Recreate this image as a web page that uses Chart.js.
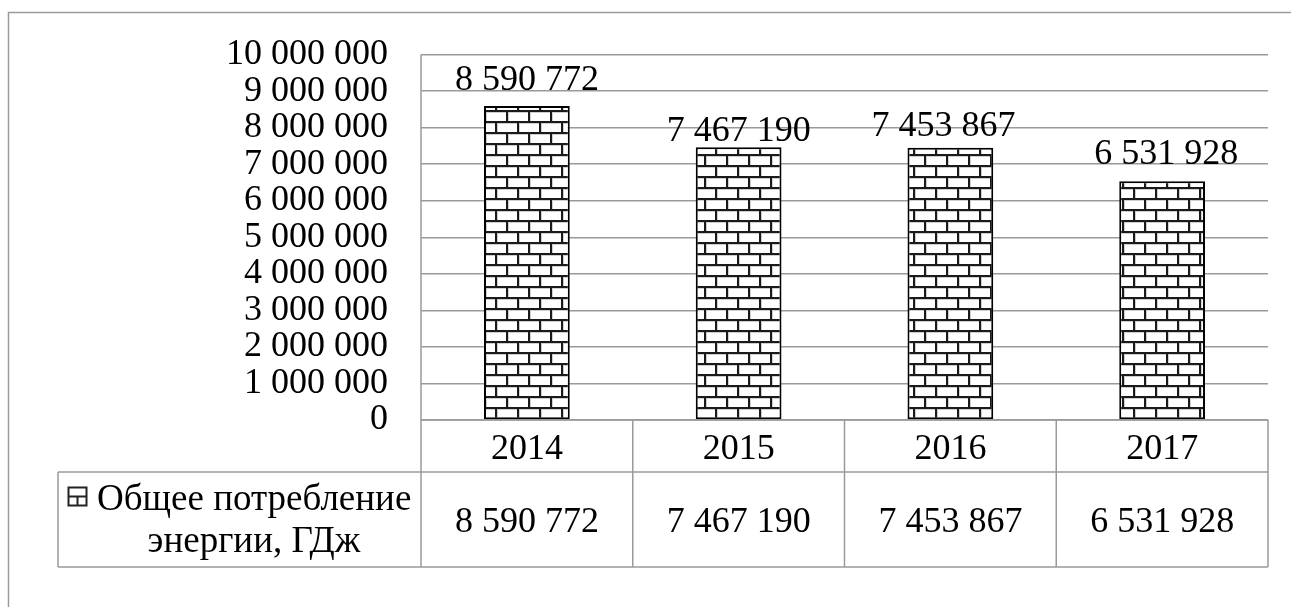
<!DOCTYPE html>
<html>
<head>
<meta charset="utf-8">
<script src="https://cdn.jsdelivr.net/npm/chart.js@4/dist/chart.umd.min.js"></script>
<style>
  html, body { margin: 0; padding: 0; background: #fff; }
  #wrap { width: 1291px; height: 607px; }
</style>
</head>
<body>
<div id="wrap"><canvas id="chart" width="1291" height="607"></canvas></div>
<script>
// данные диаграммы
const years = ['2014', '2015', '2016', '2017'];
const energyTotal = [8590772, 7467190, 7453867, 6531928];
const seriesName = ['Общее потребление', 'энергии, ГДж'];
const yMin = 0;
const yMax = 10000000;
const yStep = 1000000;

const FONT = '"Liberation Serif", "Times New Roman", serif';
const GRID = '#9a9a9a';

// формат "8 590 772"
function fmt(v) {
    return String(v).replace(/\B(?=(\d{3})+(?!\d))/g, ' ');
}

// кирпичная штриховка
function brickPattern(ctx) {
    const c = document.createElement('canvas');
    c.width = 22; c.height = 22;
    const g = c.getContext('2d');
    g.fillStyle = '#ffffff';
    g.fillRect(0, 0, 22, 22);
    // светлая тень внутри кирпичей
    g.fillStyle = '#cfcfcf';
    g.fillRect(0, 2, 22, 1);
    g.fillRect(0, 13, 22, 1);
    g.fillRect(2, 0, 1, 11);
    g.fillRect(13, 11, 1, 11);
    // швы
    g.fillStyle = '#1a1a1a';
    g.fillRect(0, 0, 22, 2);
    g.fillRect(0, 11, 22, 2);
    g.fillRect(0, 0, 2, 11);
    g.fillRect(11, 11, 2, 11);
    return ctx.createPattern(c, 'repeat');
}

const canvas = document.getElementById('chart');
const ctx = canvas.getContext('2d');

// небольшие сдвиги подписей, как в оригинале
const labelLift = [16, 6, 12, 17];
const labelShift = [0, 0, -7, 4];

const tablePlugin = {
    id: 'dataTable',
    afterDraw(chart) {
        const c = chart.ctx;
        const area = chart.chartArea;
        const x = chart.scales.x;
        const rowTop = area.bottom;
        const row1 = rowTop + 52;
        const row2 = row1 + 95;
        const legendLeft = 58;

        c.save();
        c.strokeStyle = GRID;
        c.lineWidth = 1.5;

        // внешняя рамка
        c.strokeRect(8.5, 12.5, 1400, 800);

        c.beginPath();
        // ось Y до низа таблицы
        c.moveTo(area.left, area.top);
        c.lineTo(area.left, row2);
        // горизонтальные линии таблицы
        c.moveTo(area.left, rowTop);
        c.lineTo(area.right, rowTop);
        c.moveTo(legendLeft, row1);
        c.lineTo(area.right, row1);
        c.moveTo(legendLeft, row2);
        c.lineTo(area.right, row2);
        c.moveTo(legendLeft, row1);
        c.lineTo(legendLeft, row2);
        // вертикальные разделители
        const w = (area.right - area.left) / years.length;
        for (let i = 1; i <= years.length; i++) {
            const xx = area.left + w * i;
            c.moveTo(xx, rowTop);
            c.lineTo(xx, row2);
        }
        c.stroke();

        // значения в таблице
        c.fillStyle = '#000';
        c.font = '36px ' + FONT;
        c.textAlign = 'center';
        c.textBaseline = 'alphabetic';
        energyTotal.forEach((v, i) => {
            c.fillText(fmt(v), x.getPixelForValue(i), row1 + 60);
        });

        // легенда-заголовок строки
        c.font = '37px ' + FONT;
        c.textAlign = 'left';
        c.fillText(seriesName[0], 97, row1 + 38);
        c.textAlign = 'center';
        c.fillText(seriesName[1], 254, row1 + 80);
        // значок серии
        const kx = 68.5, ky = 487.5, ks = 18;
        c.fillStyle = '#fff';
        c.fillRect(kx, ky, ks, ks);
        c.strokeStyle = '#222';
        c.lineWidth = 2;
        c.strokeRect(kx, ky, ks, ks);
        c.beginPath();
        c.moveTo(kx, ky + ks / 2);
        c.lineTo(kx + ks, ky + ks / 2);
        c.moveTo(kx + ks / 2, ky + ks / 2);
        c.lineTo(kx + ks / 2, ky + ks);
        c.stroke();

        // подписи над столбцами
        c.fillStyle = '#000';
        c.font = '36px ' + FONT;
        chart.getDatasetMeta(0).data.forEach((bar, i) => {
            c.fillText(fmt(energyTotal[i]), bar.x + labelShift[i], bar.y - labelLift[i]);
        });
        c.restore();
    }
};

new Chart(ctx, {
    type: 'bar',
    data: {
        labels: years,
        datasets: [{
            label: seriesName.join(' '),
            data: energyTotal,
            backgroundColor: brickPattern(ctx),
            borderColor: '#000',
            borderWidth: 2,
            borderSkipped: false,
            categoryPercentage: 1,
            barPercentage: 0.405
        }]
    },
    options: {
        responsive: false,
        animation: false,
        layout: { padding: { left: 0, top: 52, right: 23, bottom: 135 } },
        plugins: {
            legend: { display: false },
            tooltip: { enabled: false }
        },
        scales: {
            x: {
                offset: true,
                grid: { display: false, drawTicks: false },
                border: { display: false },
                ticks: {
                    color: '#000',
                    font: { family: FONT, size: 36 },
                    padding: 8,
                    maxRotation: 0
                },
                afterFit(scale) { scale.height = 52; }
            },
            y: {
                min: yMin,
                max: yMax,
                grid: { color: GRID, lineWidth: 1.5, drawTicks: false },
                border: { display: false },
                ticks: {
                    stepSize: yStep,
                    autoSkip: false,
                    color: '#000',
                    font: { family: FONT, size: 36 },
                    padding: 33,
                    callback: (v) => fmt(v)
                },
                afterFit(scale) { scale.width = 421; }
            }
        }
    },
    plugins: [tablePlugin]
});
</script>
</body>
</html>
